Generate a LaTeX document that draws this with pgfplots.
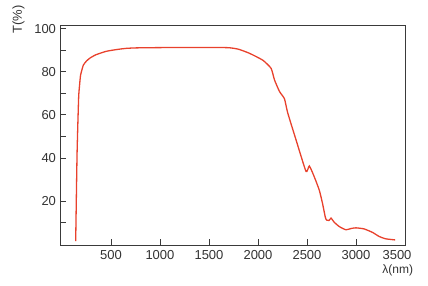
\documentclass[border=0pt]{standalone}
\usepackage{pgfplots}
\pgfplotsset{compat=1.18}
\usepackage{fontspec}
\setmainfont{Liberation Sans}
\definecolor{curve}{HTML}{E8412C}
\definecolor{txt}{HTML}{333333}
\definecolor{frame}{HTML}{3A3A3A}
\begin{document}
\begin{tikzpicture}
\useasboundingbox (-60.5pt,-40.7pt) rectangle (367.5pt,245.3pt);
\begin{axis}[
  at={(0,0)}, anchor=south west,
  scale only axis,
  width=344.5pt, height=219.8pt,
  xmin=-15, xmax=3500,
  ymin=-0.5, ymax=101.5,
  axis line style={frame, line width=1pt},
  xtick={500,1000,1500,2000,2500,3000},
  extra x ticks={3500},
  extra x tick style={major tick length=0pt, xticklabel style={xshift=-8pt}},
  ytick={20,40,60,80,100},
  extra y ticks={10,50,70,90},
  extra y tick labels={},
  extra y tick style={major tick length=6pt},
  xtick pos=bottom, ytick pos=left,
  tick align=inside,
  major tick length=6pt,
  tick style={frame, line width=0.9pt},
  ticklabel style={font=\fontsize{13}{15}\selectfont, text=txt},
  /pgf/number format/assume math mode=true,
  /pgf/number format/1000 sep={},
  xticklabel style={yshift=-2pt},
  yticklabel style={xshift=-1pt},
  clip=false,
]
\addplot[curve, line width=1.3pt, smooth, tension=0.3] coordinates {
(140,1.4) (154,42) (170,68) (180,74) (190,78.5) (218,83.1) (250,85) (286,86.4)
(340,87.8) (388,88.6) (450,89.5) (523,90.1) (600,90.6) (659,90.9) (750,91.1)
(900,91.2) (1200,91.3) (1500,91.3) (1700,91.2) (1800,90.5) (1913,88.6)
(2049,85.4) (2134,81.6) (2168,76.3) (2219,70.9) (2270,67.5) (2303,61)
(2389,48.3) (2490,33.8) (2524,36.3) (2575,31.2) (2626,25) (2659,18.8)
(2687,12.5) (2700,11.2) (2725,11.0) (2745,12.1) (2778,10.2) (2829,8.2)
(2897,6.7) (2950,7.3) (2999,7.6) (3083,7.1) (3168,5.5) (3236,3.6)
(3304,2.5) (3399,2.0)
};
\end{axis}
\node[rotate=90, text=txt, font=\fontsize{13}{15}\selectfont] at (-42pt,226pt) {T(\%)};
\node[text=txt, font=\fontsize{12}{14}\selectfont] at (337.2pt,-25.4pt) {λ(nm)};
\end{tikzpicture}
\end{document}
